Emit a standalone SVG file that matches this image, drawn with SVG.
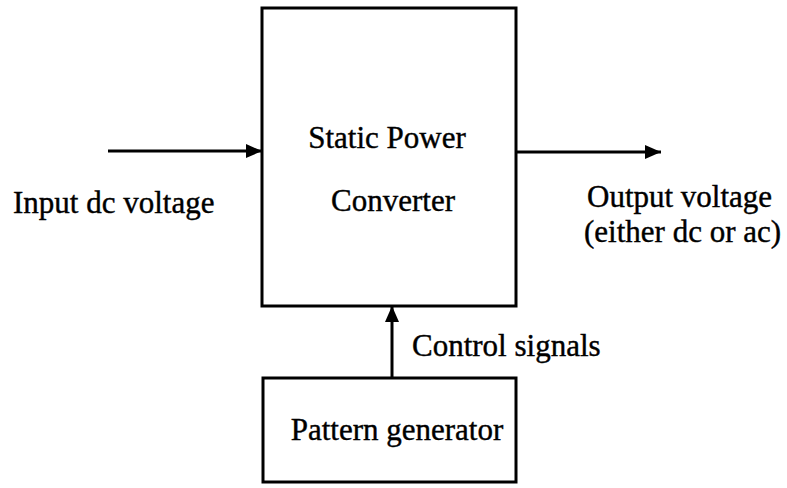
<svg xmlns="http://www.w3.org/2000/svg" width="787" height="488" viewBox="0 0 787 488">
<style>
.box{fill:#fff;stroke:#000;stroke-width:3}
.ln{fill:none;stroke:#000;stroke-width:3}
.t{font-family:"Liberation Serif","Times New Roman",serif;font-size:31px;fill:#000;stroke:#000;stroke-width:0.4}
</style>
<defs>
<marker id="ah" markerUnits="userSpaceOnUse" markerWidth="18" markerHeight="14" refX="16" refY="7" orient="auto">
<path d="M0,0 L16,7 L0,14 Z" fill="#000"/>
</marker>
</defs>
<rect width="787" height="488" fill="#fff"/>
<g id="converter">
<rect class="box" x="262" y="8" width="254" height="298"/>
<text class="t" x="387" y="148" text-anchor="middle">Static Power</text>
<text class="t" x="393" y="211" text-anchor="middle">Converter</text>
</g>
<g id="pattern">
<rect class="box" x="263" y="378" width="253" height="104"/>
<text class="t" x="397" y="440" text-anchor="middle">Pattern generator</text>
</g>
<g id="connectors">
<line class="ln" x1="108" y1="151" x2="262" y2="151" marker-end="url(#ah)"/>
<line class="ln" x1="516" y1="152" x2="661" y2="152" marker-end="url(#ah)"/>
<line class="ln" x1="392" y1="378" x2="392" y2="306" marker-end="url(#ah)"/>
</g>
<g id="labels">
<text class="t" x="13" y="213">Input dc voltage</text>
<text class="t" x="587" y="207">Output voltage</text>
<text class="t" x="584" y="242">(either dc or ac)</text>
<text class="t" x="412" y="356">Control signals</text>
</g>
</svg>
